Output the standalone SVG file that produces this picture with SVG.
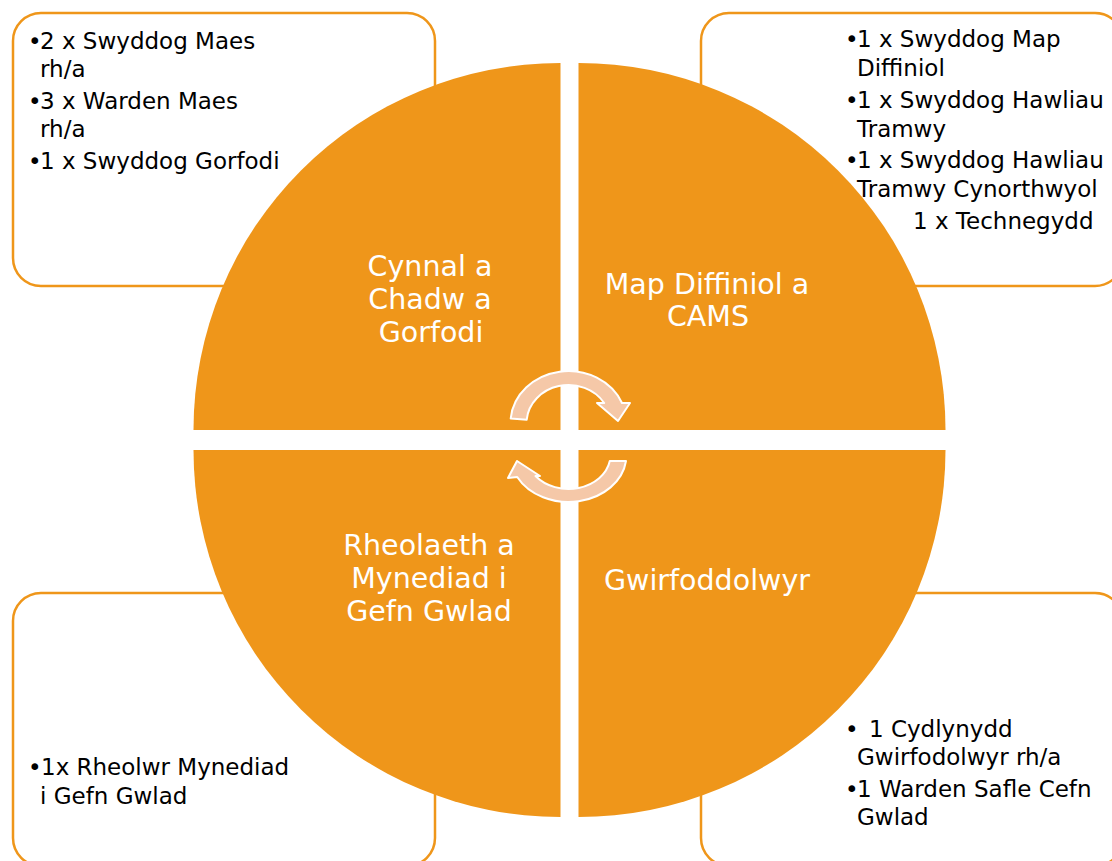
<svg xmlns="http://www.w3.org/2000/svg" width="1112" height="861" viewBox="0 0 1112 861">
<defs>
<style>
.box{fill:#FFFFFF;stroke:#EF961A;stroke-width:2.5}
.btxt{font-family:"DejaVu Sans","Liberation Sans",sans-serif;font-size:23px;fill:#000000}
.quad{fill:#EF961A}
.lbl{font-family:"DejaVu Sans","Liberation Sans",sans-serif;font-size:28.5px;fill:#FFFFFF;text-anchor:middle}
.arr{fill:#F5C8A8;stroke:#FFFFFF;stroke-width:2;stroke-linejoin:round}
</style>
</defs>
<rect width="1112" height="861" fill="#FFFFFF"/>
<g id="box-tl">
<rect class="box" x="13" y="13" width="422" height="273" rx="28"/>
<text class="btxt"><tspan x="28" y="49">•</tspan><tspan x="40" y="49">2 x Swyddog Maes</tspan><tspan x="40" y="77">rh/a</tspan><tspan x="28" y="109">•</tspan><tspan x="40" y="109">3 x Warden Maes</tspan><tspan x="40" y="137">rh/a</tspan><tspan x="28" y="169">•</tspan><tspan x="40" y="169">1 x Swyddog Gorfodi</tspan></text>
</g>
<g id="box-tr">
<rect class="box" x="701" y="13" width="422" height="273" rx="28"/>
<text class="btxt"><tspan x="845" y="47">•</tspan><tspan x="857" y="47">1 x Swyddog Map</tspan><tspan x="857" y="76">Diffiniol</tspan><tspan x="845" y="108">•</tspan><tspan x="857" y="108">1 x Swyddog Hawliau</tspan><tspan x="857" y="137">Tramwy</tspan><tspan x="845" y="168">•</tspan><tspan x="857" y="168">1 x Swyddog Hawliau</tspan><tspan x="857" y="197">Tramwy Cynorthwyol</tspan><tspan x="913" y="229">1 x Technegydd</tspan></text>
</g>
<g id="box-bl">
<rect class="box" x="13" y="593" width="422" height="273" rx="28"/>
<text class="btxt"><tspan x="28" y="775">•</tspan><tspan x="41" y="775">1x Rheolwr Mynediad</tspan><tspan x="40" y="804">i Gefn Gwlad</tspan></text>
</g>
<g id="box-br">
<rect class="box" x="701" y="593" width="422" height="273" rx="28"/>
<text class="btxt"><tspan x="845" y="737">•</tspan><tspan x="869" y="737">1 Cydlynydd</tspan><tspan x="857" y="765">Gwirfodolwyr rh/a</tspan><tspan x="845" y="797">•</tspan><tspan x="857" y="797">1 Warden Safle Cefn</tspan><tspan x="857" y="825">Gwlad</tspan></text>
</g>
<g id="quad-tl">
<path class="quad" d="M560.5,430 L193.5,430 A367,367 0 0 1 560.5,63 Z"/>
<text class="lbl"><tspan x="430" y="276">Cynnal a</tspan><tspan x="430" y="309">Chadw a</tspan><tspan x="431" y="342">Gorfodi</tspan></text>
</g>
<g id="quad-tr">
<path class="quad" d="M578.5,430 L578.5,63 A367,367 0 0 1 945.5,430 Z"/>
<text class="lbl"><tspan x="707" y="294">Map Diffiniol a</tspan><tspan x="708" y="326">CAMS</tspan></text>
</g>
<g id="quad-bl">
<path class="quad" d="M560.5,450 L560.5,817 A367,367 0 0 1 193.5,450 Z"/>
<text class="lbl"><tspan x="429" y="555">Rheolaeth a</tspan><tspan x="429" y="588">Mynediad i</tspan><tspan x="429" y="621">Gefn Gwlad</tspan></text>
</g>
<g id="quad-br">
<path class="quad" d="M578.5,450 L945.5,450 A367,367 0 0 1 578.5,817 Z"/>
<text class="lbl"><tspan x="707" y="590">Gwirfoddolwyr</tspan></text>
</g>
<g id="connectors">
<path class="arr" d="M510.7,418.5 A58,52 0 0 1 622,403 L630,403 L618,421 L597,403 L604.2,403 A42,38 0 0 0 526.7,419.7 Z"/>
<path class="arr" d="M626,461 A58,47 0 0 1 517.2,477 L508,478 L517,461 L540,476 L535.5,476 A42,34 0 0 0 609.8,461 Z"/>
</g>
</svg>
